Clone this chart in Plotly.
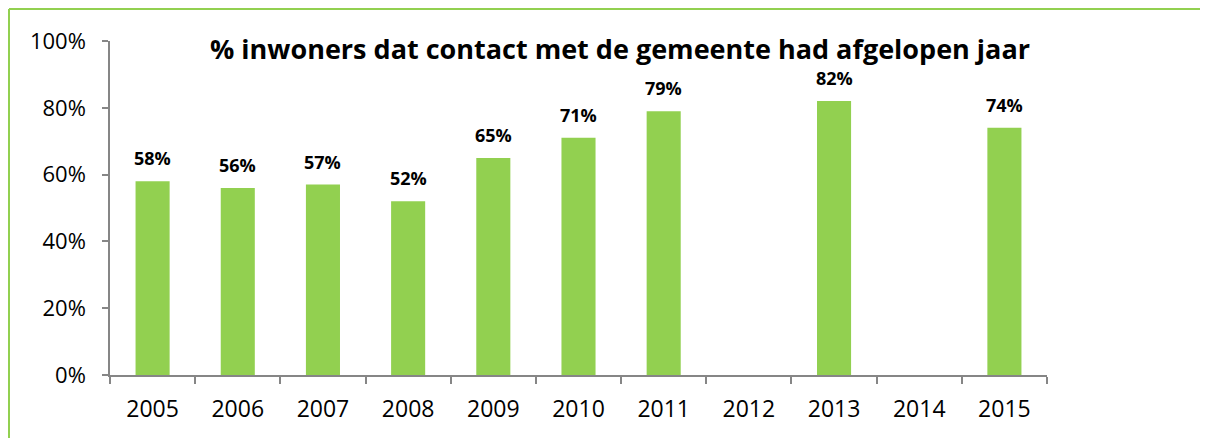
import plotly.graph_objects as go

years = ["2005", "2006", "2007", "2008", "2009", "2010", "2011", "2012", "2013", "2014", "2015"]
values = [58, 56, 57, 52, 65, 71, 79, None, 82, None, 74]
labels = [f"{v}%" if v is not None else "" for v in values]
title = "% inwoners dat contact met de gemeente had afgelopen jaar"

FONT = "Open Sans, sans-serif"
# page has an 8px body margin, so the figure is laid out 8px smaller
W, H = 1200, 430
L, R, T, B = 102, 161, 33, 63
PW, PH = W - L - R, H - T - B

fig = go.Figure()
fig.add_trace(go.Bar(
    x=years, y=[v / 100 if v is not None else None for v in values],
    marker=dict(color="#92D050", line=dict(width=0)),
    width=0.4,
    showlegend=False,
))
for i, (v, lab) in enumerate(zip(values, labels)):
    if v is None:
        continue
    fig.add_annotation(x=i, y=v / 100, text=f"<b>{lab}</b>", showarrow=False,
                       yanchor="bottom", yshift=9,
                       font=dict(family=FONT, size=18, color="#000000"))

fig.add_annotation(xref="paper", yref="paper", x=(612 - L) / PW, y=1.0, text=f"<b>{title}</b>",
                   showarrow=False, yanchor="middle", xanchor="center", yshift=-7,
                   font=dict(family=FONT, size=27, color="#000000"))

bx = (1 - L) / PW
by = (H - B - 1) / PH
fig.update_layout(
    width=W, height=H,
    margin=dict(l=L, r=R, t=T, b=B, autoexpand=False),
    paper_bgcolor="white", plot_bgcolor="white",
    font=dict(family=FONT, size=22, color="#000000"),
    shapes=[
        dict(type="line", xref="paper", yref="paper", x0=bx, x1=1.3, y0=by, y1=by,
             line=dict(color="#92D050", width=2)),
        dict(type="line", xref="paper", yref="paper", x0=bx, x1=bx, y0=-0.3, y1=by,
             line=dict(color="#92D050", width=2)),
    ],
)
fig.update_xaxes(type="category", showline=True, linecolor="#868686", linewidth=1.5,
                 ticks="outside", tickson="boundaries", ticklen=7, tickcolor="#868686",
                 tickwidth=1.5, showgrid=False, tickangle=0, automargin=False,
                 ticklabelstandoff=13,
                 tickfont=dict(family=FONT, size=23))
fig.update_yaxes(range=[0, 1], tickvals=[0, 0.2, 0.4, 0.6, 0.8, 1.0],
                 ticktext=["0%", "20%", "40%", "60%", "80%", "100%"],
                 showline=True, linecolor="#868686", linewidth=1.5,
                 ticks="outside", ticklen=6, tickcolor="#868686", tickwidth=1.5,
                 showgrid=False, zeroline=False, automargin=False,
                 ticklabelstandoff=12,
                 tickfont=dict(family=FONT, size=22))

fig.write_html("out.html")
